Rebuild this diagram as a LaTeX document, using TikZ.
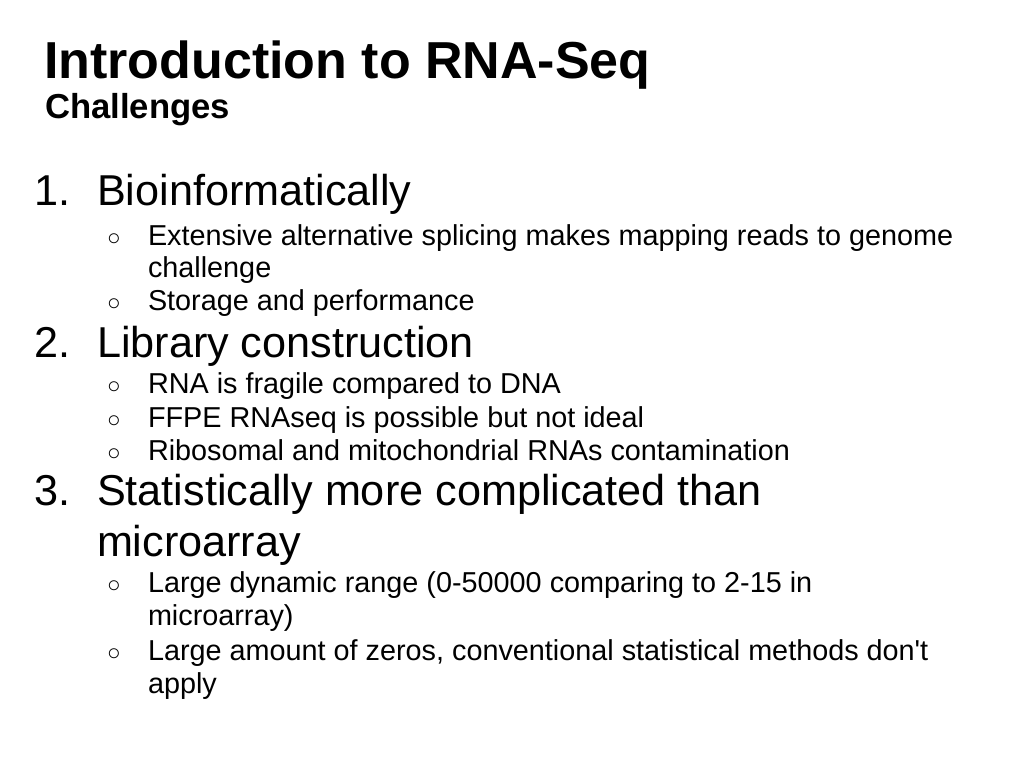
\documentclass[tikz,border=0pt]{standalone}
\usepackage{fontspec}
\setmainfont{Liberation Sans}
\usepackage{tikz}

\begin{document}
\begin{tikzpicture}[
    x=0.75pt, y=-0.75pt,
    txt/.style={anchor=base west, inner sep=0pt, outer sep=0pt},
    head/.style={txt, font=\fontsize{32.4}{38}\selectfont},
    item/.style={txt, font=\fontsize{21.6}{26}\selectfont},
    bul/.style={txt, font=\fontsize{17}{20}\selectfont}
]
    \useasboundingbox (0,0) rectangle (1024,768);
    \node[txt, font=\fontsize{39}{46}\bfseries\selectfont] (title) at (44,78) {Introduction to RNA-Seq};
    \node[txt, font=\fontsize{26}{30}\bfseries\selectfont] (sub) at (45,118) {Challenges};

    % 1
    \node[head] (n1) at (34,205) {1.};
    \node[head] (h1) at (97,205) {Bioinformatically};
    \node[bul] (b11) at (107,245) {○};
    \node[item] (t11) at (148,245) {Extensive alternative splicing makes mapping reads to genome};
    \node[item] (t11b) at (148,277) {challenge};
    \node[bul] (b12) at (107,310) {○};
    \node[item] (t12) at (148,310) {Storage and performance};

    % 2
    \node[head] (n2) at (34,357) {2.};
    \node[head] (h2) at (97,357) {Library construction};
    \node[bul] (b21) at (107,393) {○};
    \node[item] (t21) at (148,393) {RNA is fragile compared to DNA};
    \node[bul] (b22) at (107,427) {○};
    \node[item] (t22) at (148,427) {FFPE RNAseq is possible but not ideal};
    \node[bul] (b23) at (107,460) {○};
    \node[item] (t23) at (148,460) {Ribosomal and mitochondrial RNAs contamination};

    % 3
    \node[head] (n3) at (34,505) {3.};
    \node[head] (h3) at (97,505) {Statistically more complicated than};
    \node[head] (h3b) at (97,556) {microarray};
    \node[bul] (b31) at (107,592) {○};
    \node[item] (t31) at (148,592) {Large dynamic range (0-50000 comparing to 2-15 in};
    \node[item] (t31b) at (148,625) {microarray)};
    \node[bul] (b32) at (107,660) {○};
    \node[item] (t32) at (148,660) {Large amount of zeros, conventional statistical methods don\textquotesingle t};
    \node[item] (t32b) at (148,693) {apply};
\end{tikzpicture}
\end{document}
